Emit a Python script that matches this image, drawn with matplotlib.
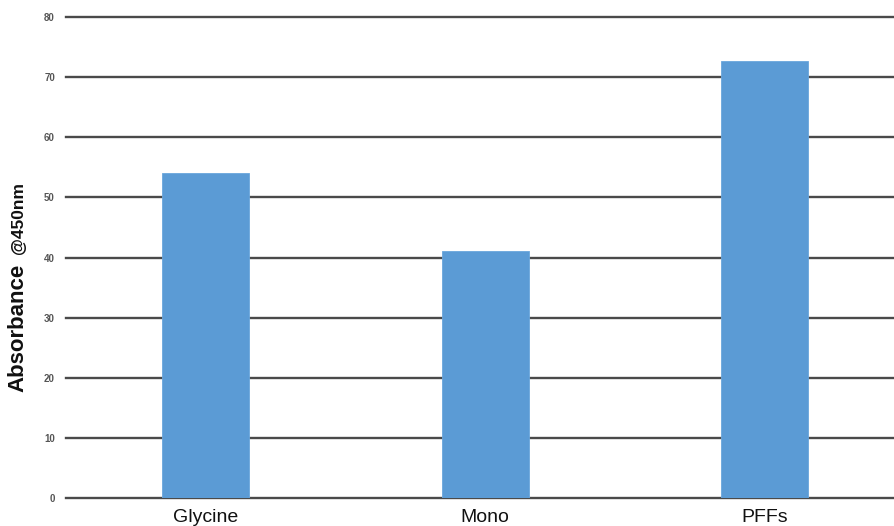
import matplotlib
matplotlib.use("Agg")
import matplotlib.pyplot as plt

# absorbance readings per sample
samples = ["Glycine", "Mono", "PFFs"]
absorbance = [54.1, 41.0, 72.7]
y_ticks = [0, 10, 20, 30, 40, 50, 60, 70, 80]

BAR_COLOR = "#5B9BD5"
GRID_COLOR = "#4a4a4a"

plt.rcParams["font.family"] = ["Liberation Sans", "DejaVu Sans"]

fig = plt.figure(figsize=(8.95, 5.26), dpi=100)
ax = fig.add_axes([66 / 895, 28 / 526, 838.5 / 895, 481 / 526])

x = range(len(samples))
ax.bar(x, absorbance, width=0.31, color=BAR_COLOR, edgecolor="#6aa6dc",
       linewidth=0.6, zorder=3)

ax.set_xlim(-0.5, len(samples) - 0.5)
ax.set_ylim(0, 80)
ax.set_yticks(y_ticks)
ax.set_yticklabels([str(v) for v in y_ticks], fontsize=7,
                   fontweight="bold", color="#555555")
ax.set_xticks(list(x))
ax.set_xticklabels(samples, fontsize=14, color="#111111")
ax.tick_params(axis="both", length=0)
ax.tick_params(axis="y", pad=8)
ax.tick_params(axis="x", pad=8)

ax.yaxis.grid(True, color=GRID_COLOR, linewidth=1.7, zorder=1)
ax.xaxis.grid(False)
ax.set_axisbelow(True)
for gl in ax.get_ygridlines():
    gl.set_clip_on(False)
for side in ax.spines.values():
    side.set_visible(False)

# y label in two sizes
fig.text(18 / 895, 1 - 328 / 526, "Absorbance", rotation=90, fontsize=16,
         fontweight="bold", ha="center", va="center", color="#111111")
fig.text(19 / 895, 1 - 218 / 526, "@450nm", rotation=90, fontsize=12.5,
         fontweight="bold", ha="center", va="center", color="#111111")

fig.savefig("out.png", dpi=100)
